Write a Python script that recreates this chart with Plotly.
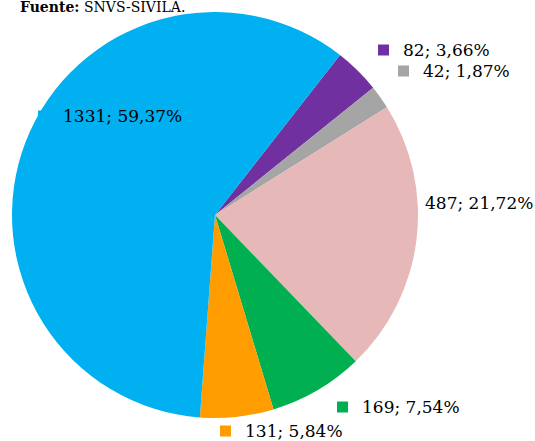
import plotly.graph_objects as go

W, H = 535, 441

values = [82, 42, 487, 169, 131, 1331]
percents = ["3,66%", "1,87%", "21,72%", "7,54%", "5,84%", "59,37%"]
colors = ["#7030A0", "#A5A5A5", "#E6B9B8", "#00B050", "#FF9C00", "#00B0F0"]

# label layout (pixel positions of text left edge / vertical centre)
label_x = [402, 422, 424, 361, 244, 62]
label_y = [50, 71, 203, 407, 431, 116]

FONT = "DejaVu Serif"
FS = 17

fig = go.Figure()
fig.add_trace(go.Pie(
    values=values,
    marker=dict(colors=colors, line=dict(width=0)),
    sort=False,
    direction="clockwise",
    rotation=38,
    textinfo="none",
    hoverinfo="value+percent",
    showlegend=False,
    domain=dict(x=[12 / W, 418 / W], y=[(H - 418) / H, (H - 12) / H]),
))

annotations = []
shapes = []
for v, p, c, lx, ly in zip(values, percents, colors, label_x, label_y):
    annotations.append(dict(
        x=lx / W, y=1 - ly / H, xref="paper", yref="paper",
        xanchor="left", yanchor="middle", showarrow=False,
        borderpad=0,
        text=f"{v}; {p}", font=dict(family=FONT, size=FS, color="#000000"),
    ))
    shapes.append(dict(
        type="rect", xref="paper", yref="paper",
        x0=(lx - 24) / W, x1=(lx - 13) / W,
        y0=1 - (ly + 5.5) / H, y1=1 - (ly - 5.5) / H,
        fillcolor=c, line=dict(width=0),
    ))

annotations.append(dict(
    x=18 / W, y=1 - 7 / H, xref="paper", yref="paper",
    xanchor="left", yanchor="middle", showarrow=False,
    text="<b>Fuente:</b> SNVS-SIVILA.",
    font=dict(family=FONT, size=14, color="#000000"),
))

fig.update_layout(
    width=W, height=H,
    margin=dict(l=0, r=0, t=0, b=0),
    paper_bgcolor="#FFFFFF", plot_bgcolor="#FFFFFF",
    annotations=annotations, shapes=shapes,
)

fig.write_html(
    "out.html",
    config={"displayModeBar": False},
    post_script="document.body.style.margin='0';document.body.style.overflow='hidden';",
)
